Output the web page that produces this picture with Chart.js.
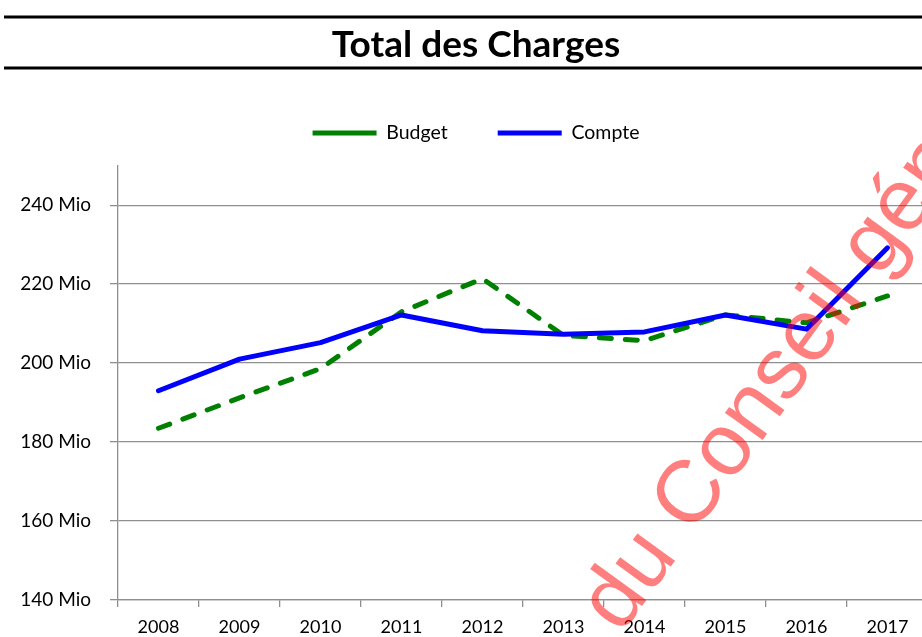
<!DOCTYPE html>
<html>
<head>
<meta charset="utf-8">
<script src="https://cdn.jsdelivr.net/npm/chart.js@4/dist/chart.umd.min.js"></script>
<style>
  html, body { margin: 0; padding: 0; background: #fff; overflow: hidden; }
  #wrap { width: 952px; height: 637px; position: relative; }
</style>
</head>
<body>
<div id="wrap"><canvas id="chart"></canvas></div>
<script>
const years = ['2008', '2009', '2010', '2011', '2012', '2013', '2014', '2015', '2016', '2017'];
const budget = [183.5, 191.2, 198.6, 213.0, 221.4, 207.0, 205.7, 212.2, 210.2, 217.0];
const compte = [193.0, 201.0, 205.2, 212.2, 208.2, 207.3, 207.9, 212.2, 208.6, 229.2];
const yTicks = [140, 160, 180, 200, 220, 240];

const FONT = 'Lato';
const gridGrey = '#8f8f8f';

// lignes noires autour du titre + filigrane
const decor = {
    id: 'decor',
    afterDraw(chart) {
        const ctx = chart.ctx;
        ctx.save();
        ctx.strokeStyle = '#000';
        ctx.lineWidth = 3;
        ctx.beginPath();
        ctx.moveTo(4, 17); ctx.lineTo(chart.width, 17);
        ctx.moveTo(4, 68); ctx.lineTo(chart.width, 68);
        ctx.stroke();

        ctx.translate(621, 635);
        ctx.rotate(-54 * Math.PI / 180);
        ctx.font = '88px "Liberation Sans"';
        ctx.fillStyle = 'rgba(255, 0, 0, 0.5)';
        ctx.textBaseline = 'alphabetic';
        ctx.fillText('du Conseil général', 0, 0);
        ctx.restore();
    }
};

new Chart(document.getElementById('chart').getContext('2d'), {
    type: 'line',
    data: {
        labels: years,
        datasets: [{
            label: 'Budget',
            data: budget,
            xAxisID: 'x',
            yAxisID: 'y',
            borderColor: '#008000',
            backgroundColor: '#008000',
            borderWidth: 5,
            borderDash: [12, 14],
            borderCapStyle: 'round',
            borderJoinStyle: 'round',
            pointRadius: 0,
            tension: 0,
            order: 1
        }, {
            label: 'Compte',
            data: compte,
            xAxisID: 'x',
            yAxisID: 'y',
            borderColor: '#0000ff',
            backgroundColor: '#0000ff',
            borderWidth: 5,
            borderCapStyle: 'round',
            borderJoinStyle: 'round',
            pointRadius: 0,
            tension: 0,
            order: 0
        }]
    },
    options: {
        responsive: true,
        maintainAspectRatio: false,
        animation: false,
        layout: { padding: { top: 0, right: 0, bottom: 1, left: 0 } },
        plugins: {
            title: {
                display: true,
                text: 'Total des Charges',
                color: '#000',
                font: { family: FONT, size: 37, weight: 'bold', lineHeight: 1.2 },
                padding: { top: 22.8, bottom: 6 }
            },
            legend: {
                position: 'top',
                labels: {
                    usePointStyle: true,
                    pointStyle: 'line',
                    pointStyleWidth: 64,
                    color: '#000',
                    font: { family: FONT, size: 19.5 },
                    padding: 50,
                    sort: (a, b) => a.datasetIndex - b.datasetIndex
                }
            },
            tooltip: { enabled: false }
        },
        scales: {
            x: {
                offset: true,
                afterFit(axis) { axis.height = 36; },
                grid: {
                    offset: true,
                    drawOnChartArea: false,
                    drawTicks: true,
                    tickLength: 7,
                    color: gridGrey,
                    lineWidth: 1.3
                },
                border: { display: true, color: gridGrey, width: 1.3 },
                ticks: {
                    color: '#000',
                    font: { family: FONT, size: 18, lineHeight: 1 },
                    padding: 11,
                    maxRotation: 0
                }
            },
            // espace vide entre légende et graphique
            xTop: {
                type: 'category',
                position: 'top',
                afterFit(axis) { axis.height = 13; },
                grid: { display: false },
                border: { display: false },
                ticks: { display: false }
            },
            y: {
                min: 140,
                max: 250,
                afterBuildTicks(axis) {
                    axis.ticks = yTicks.map(v => ({ value: v }));
                },
                afterFit(axis) { axis.width = 118; },
                grid: {
                    color: gridGrey,
                    lineWidth: 1.3,
                    drawTicks: true,
                    tickLength: 8
                },
                border: { display: true, color: gridGrey, width: 1.3 },
                ticks: {
                    color: '#000',
                    font: { family: FONT, size: 19 },
                    padding: 19,
                    callback: v => v + ' Mio'
                }
            },
            // marge droite (le graphique dépasse la fenêtre)
            yRight: {
                type: 'linear',
                position: 'right',
                afterFit(axis) { axis.width = 24; },
                grid: { display: false },
                border: { display: false },
                ticks: { display: false }
            }
        }
    },
    plugins: [decor]
});
</script>
</body>
</html>
